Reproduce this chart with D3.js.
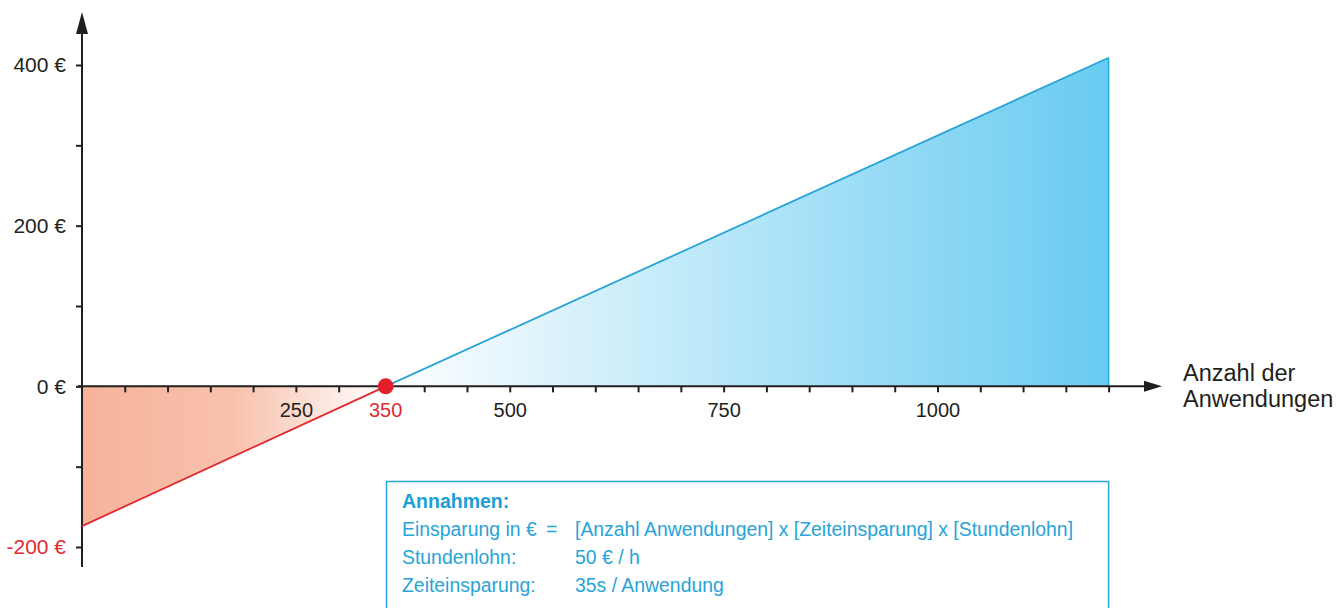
<!DOCTYPE html>
<html>
<head>
<meta charset="utf-8">
<script src="https://cdn.jsdelivr.net/npm/d3@7"></script>
<style>
  body { margin: 0; background: #fff; }
  svg text { font-family: "Liberation Sans", Arial, Helvetica, sans-serif; }
</style>
</head>
<body>
<div id="chart"></div>
<script>
// data
var lossLine = [[0, -174], [355, 0]];
var gainLine = [[355, 0], [1200, 409]];
var breakEven = [355, 0];
var breakEvenLabel = "350";
var xTicks = d3.range(50, 1201, 50);
var xLabels = [250, 500, 750, 1000];
var yTicks = [-200, -100, 0, 100, 200, 300, 400];
var yLabels = [-200, 0, 200, 400];
var xTitle = ["Anzahl der", "Anwendungen"];
var boxTitle = "Annahmen:";
var boxRows = [
  ["Einsparung in €", "=", "[Anzahl Anwendungen] x [Zeiteinsparung] x [Stundenlohn]"],
  ["Stundenlohn:", "", "50 € / h"],
  ["Zeiteinsparung:", "", "35s / Anwendung"]
];

var svgWidth = 1344;
var svgHeight = 608;

var blue = "#28a4d6";
var red = "#e12a32";
var ink = "#231f20";

var svg = d3.select("#chart")
  .append("svg")
  .attr("width", svgWidth)
  .attr("height", svgHeight);

var x = d3.scaleLinear().domain([0, 1000]).range([82, 937.5]);
var y = d3.scaleLinear().domain([-200, 400]).range([547, 65]);

// gradients
var defs = svg.append("defs");
var gBlue = defs.append("linearGradient")
  .attr("id", "gBlue")
  .attr("gradientUnits", "userSpaceOnUse")
  .attr("x1", x(breakEven[0])).attr("x2", x(1200))
  .attr("y1", 0).attr("y2", 0);
gBlue.append("stop").attr("offset", 0).attr("stop-color", "#ffffff");
gBlue.append("stop").attr("offset", 1).attr("stop-color", "#68cbf1");

var gRed = defs.append("linearGradient")
  .attr("id", "gRed")
  .attr("gradientUnits", "userSpaceOnUse")
  .attr("x1", x(0)).attr("x2", x(breakEven[0]))
  .attr("y1", 0).attr("y2", 0);
gRed.append("stop").attr("offset", 0).attr("stop-color", "#f6b39b");
gRed.append("stop").attr("offset", 0.5).attr("stop-color", "#f8c1ac");
gRed.append("stop").attr("offset", 1).attr("stop-color", "#ffffff");

var area = d3.area()
  .x(d => x(d[0]))
  .y0(y(0))
  .y1(d => y(d[1]));

var line = d3.line()
  .x(d => x(d[0]))
  .y(d => y(d[1]));

// filled areas
svg.append("path")
  .datum(lossLine)
  .attr("d", area)
  .attr("fill", "url(#gRed)");

svg.append("path")
  .datum(gainLine)
  .attr("d", area)
  .attr("fill", "url(#gBlue)");

// right edge of the blue area
var last = gainLine[gainLine.length - 1];
svg.append("line")
  .attr("x1", x(last[0])).attr("x2", x(last[0]))
  .attr("y1", y(0)).attr("y2", y(last[1]))
  .attr("stroke", blue)
  .attr("stroke-width", 1.5);

// x axis
var xAxis = d3.axisBottom(x)
  .tickValues(xTicks)
  .tickSize(6)
  .tickFormat(d => xLabels.indexOf(d) >= 0 ? d : "");

var xg = svg.append("g")
  .attr("transform", `translate(0, ${y(0)})`)
  .call(xAxis);
xg.select(".domain").remove();
xg.selectAll(".tick line").attr("stroke", ink).attr("stroke-width", 2);
xg.selectAll(".tick text")
  .attr("y", 16)
  .attr("fill", ink)
  .style("font-size", "20px");

svg.append("line")
  .attr("x1", x(0) - 4).attr("x2", 1146)
  .attr("y1", y(0)).attr("y2", y(0))
  .attr("stroke", ink).attr("stroke-width", 2);
svg.append("path")
  .attr("d", `M1162,${y(0)} L1144,${y(0) - 5.5} L1144,${y(0) + 5.5} Z`)
  .attr("fill", ink);

// y axis
var yAxis = d3.axisLeft(y)
  .tickValues(yTicks)
  .tickSize(6)
  .tickPadding(10)
  .tickFormat(d => yLabels.indexOf(d) >= 0 ? d + " €" : "");

var yg = svg.append("g")
  .attr("transform", `translate(${x(0)}, 0)`)
  .call(yAxis);
yg.select(".domain").remove();
yg.selectAll(".tick line").attr("stroke", ink).attr("stroke-width", 2);
yg.selectAll(".tick text")
  .attr("fill", d => d < 0 ? red : ink)
  .style("font-size", "21px");

svg.append("line")
  .attr("x1", x(0)).attr("x2", x(0))
  .attr("y1", 567).attr("y2", 30)
  .attr("stroke", ink).attr("stroke-width", 2);
svg.append("path")
  .attr("d", `M${x(0)},12 L${x(0) - 6},34 L${x(0) + 6},34 Z`)
  .attr("fill", ink);

// lines
svg.append("path")
  .datum(lossLine)
  .attr("d", line)
  .attr("fill", "none")
  .attr("stroke", red)
  .attr("stroke-width", 1.8);

svg.append("path")
  .datum(gainLine)
  .attr("d", line)
  .attr("fill", "none")
  .attr("stroke", blue)
  .attr("stroke-width", 1.8);

// break-even point
svg.append("circle")
  .attr("cx", x(breakEven[0]))
  .attr("cy", y(breakEven[1]))
  .attr("r", 8)
  .attr("fill", "#e3202a");

svg.append("text")
  .attr("x", x(breakEven[0]))
  .attr("y", y(0) + 31)
  .attr("text-anchor", "middle")
  .attr("fill", red)
  .style("font-size", "20px")
  .text(breakEvenLabel);

// axis title
svg.append("g")
  .selectAll("text")
  .data(xTitle)
  .enter()
  .append("text")
  .attr("x", 1183)
  .attr("y", (d, i) => 381 + i * 26)
  .attr("fill", ink)
  .style("font-size", "23.5px")
  .text(d => d);

// assumptions box
var box = svg.append("g");
box.append("rect")
  .attr("x", 386.5)
  .attr("y", 481.5)
  .attr("width", x(1200) - 386.5)
  .attr("height", 160)
  .attr("fill", "#fff")
  .attr("stroke", blue)
  .attr("stroke-width", 1.5);

box.append("text")
  .attr("x", 402)
  .attr("y", 508)
  .attr("fill", "#1d9fd6")
  .style("font-size", "19.5px")
  .style("font-weight", "bold")
  .text(boxTitle);

var rows = box.selectAll(".row")
  .data(boxRows)
  .enter()
  .append("g")
  .attr("class", "row")
  .attr("transform", (d, i) => `translate(0, ${536 + i * 28})`);

// label, sign, value columns
[402, 546, 575].forEach(function(cx, k) {
  rows.append("text")
    .attr("x", cx)
    .attr("fill", blue)
    .style("font-size", "19.4px")
    .text(d => d[k]);
});
</script>
</body>
</html>
